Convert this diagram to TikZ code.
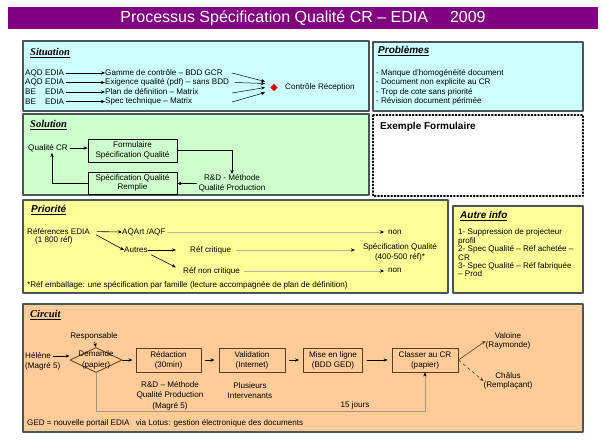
\documentclass[tikz,border=0pt]{standalone}
\usepackage{fontspec}
\setmainfont{Liberation Sans}
\newfontfamily\hdrserif{Liberation Serif}
\usetikzlibrary{
	arrows.meta,
	shapes.geometric,
	calc
}
\definecolor{TPurple}{HTML}{800080}
\definecolor{SitCyan}{HTML}{CCFFFF}
\definecolor{SolGreen}{HTML}{CCFFCC}
\definecolor{PriYellow}{HTML}{FFFF99}
\definecolor{CirPeach}{HTML}{FFCC99}
\definecolor{FrameGrey}{HTML}{4A5656}
\definecolor{CirBrown}{HTML}{5C3A1E}
\definecolor{ThinGrey}{HTML}{B4B4A4}
\definecolor{DiaRed}{HTML}{D00000}
\newcommand{\secbox}[5]{%
	\fill[#5] (#1,#2) rectangle (#3,#4);
	\draw[FrameGrey, line width=1.1pt] (#1,#2) rectangle (#3,#4);
}
\tikzset{
	txt/.style={font=\fontsize{8.1}{9.5}\selectfont, inner sep=0pt},
	hdr/.style={font=\fontsize{10}{12}\selectfont\bfseries\itshape, inner sep=0pt, anchor=west},
	hdrs/.style={hdr, font=\fontsize{10.5}{12}\selectfont\hdrserif\bfseries\itshape},
	solbox/.style={draw=black, fill=SolGreen, line width=0.8pt, minimum height=23pt,
		align=center, inner sep=0pt, font=\fontsize{8.1}{9.5}\selectfont},
	cirbox/.style={draw=CirBrown, fill=CirPeach, line width=0.9pt, minimum height=24pt,
		align=center, inner sep=0pt, font=\fontsize{8.1}{10}\selectfont},
	arr/.style={-{Stealth[length=4pt, width=3.4pt]}, line width=0.6pt},
	faint/.style={draw=ThinGrey, line width=0.5pt, -{Stealth[length=4pt, width=3.4pt, color=black]}},
	fbline/.style={draw=CirBrown!55, line width=0.5pt, -{Stealth[length=4pt, width=3.4pt, color=black]}}
}

\begin{document}
\begin{tikzpicture}[x=1pt, y=-1pt, >=Stealth, line cap=round, line join=round]
	\useasboundingbox (0,0) rectangle (605,445);
	
	% -- Title bar ------------------------------------------------
	\fill[TPurple] (8,7) rectangle (598,29);
	\node[font=\fontsize{16}{18}\selectfont, text=white, inner sep=0pt] (title) at (303,18)
	{Processus Spécification Qualité CR – EDIA\hspace{22pt}2009};
	
	% -- Situation (cyan) -----------------------------------------
	\secbox{23}{41}{369}{111}{SitCyan}
	\node[hdrs] (sitH) at (30,53) {\underline{Situation}};
	\foreach \src/\doc/\yy [count=\i] in {AQD/Gamme de contrôle – BDD GCR/73,
		AQD/Exigence qualité (pdf) – sans BDD/82.5,
		BE/Plan de définition – Matrix/92,
		BE/Spec technique – Matrix/101.5}{%
		\node[txt, anchor=west] (src\i) at (25,\yy) {\makebox[20pt][l]{\src}EDIA};
		\node[txt, anchor=west] (doc\i) at (105,\yy) {\doc};
		\draw[arr, shorten <=2pt] (src\i.east) -- (doc\i.west);
	}
	\node[diamond, fill=DiaRed, minimum size=7.5pt, inner sep=0pt] (ctl) at (274,87.5) {};
	\node[txt, anchor=west] (ctlT) at (285,87.5) {Contrôle Réception};
	\coordinate (go1) at (232,73);   \coordinate (hit1) at (265,81.5);
	\coordinate (go2) at (235,82.5); \coordinate (hit2) at (265,83.5);
	\coordinate (go3) at (232,93);   \coordinate (hit3) at (265,87.5);
	\coordinate (go4) at (232,102);  \coordinate (hit4) at (265,92.5);
	\foreach \i in {1,...,4}{%
		\draw[arr, line width=0.5pt] (go\i) -- (hit\i);
	}
	
	% -- Problemes (cyan) -----------------------------------------
	\secbox{373}{42}{583}{111}{SitCyan}
	\node[hdr] (probH) at (378,51) {\underline{Problèmes}};
	\node[txt, anchor=west, align=left] (probL) at (376,87.5)
	{- Manque d'homogénéité document\\- Document non explicite au CR\\
		- Trop de cote sans priorité\\- Révision document périmée};
	
	% -- Solution (green) -----------------------------------------
	\secbox{23}{114}{369}{195}{SolGreen}
	\node[hdrs] (solH) at (30,125) {\underline{Solution}};
	\node[txt, anchor=west] (qcr) at (28,148) {Qualité CR};
	\node[solbox, minimum width=89pt] (form) at (132.5,150.5) {Formulaire\\Spécification Qualité};
	\node[txt, align=center] (rdm) at (232,183.5) {R\&D - Méthode\\Qualité Production};
	\node[solbox, minimum width=89pt, minimum height=22pt] (rempl) at (132.5,183)
	{Spécification Qualité\\Remplie};
	\draw[arr, shorten <=2pt] (qcr.east) -- (qcr.east -| form.west);
	\draw[arr, shorten >=1pt] (form.east) -| (rdm.north);
	\draw[arr, shorten <=2pt] (rdm.west) -- (rdm.west -| rempl.east);
	\draw[arr, shorten >=1pt] (rempl.west) -| ([xshift=4pt]qcr.south);
	
	% -- Exemple formulaire (dotted) ------------------------------
	\draw[dotted, line width=1.3pt] (373,115) rectangle (583,196);
	\node[font=\fontsize{10}{12}\selectfont\bfseries, anchor=west, inner sep=0pt] (exH) at (380,127)
	{Exemple Formulaire};
	
	% -- Priorite (yellow) ----------------------------------------
	\secbox{23}{200}{448}{293}{PriYellow}
	\node[hdr] (priH) at (31,210) {\underline{Priorité}};
	\node[txt, anchor=west] (refs) at (27,231.5) {Références EDIA};
	\node[txt, anchor=west] (refsN) at (35,240.5) {(1 800 réf)};
	\node[txt, anchor=west] (aqart) at (122,232) {AQArt /AQF};
	\node[txt, anchor=west] (autres) at (124,250) {Autres};
	\node[txt, anchor=west] (rcrit) at (190,250) {Réf critique};
	\node[txt, anchor=west] (rnc) at (183,271) {Réf non critique};
	\node[txt, anchor=west] (non1) at (388,232) {non};
	\node[txt, anchor=west] (non2) at (388,270.5) {non};
	\node[txt, align=center] (specq) at (400,252.5) {Spécification Qualité\\(400-500 réf)*};
	\node[txt, anchor=west] (embal) at (27,285)
	{*Réf emballage: une spécification par famille (lecture accompagnée de plan de définition)};
	\draw[arr, shorten <=7pt] (refs.east) -- (aqart.west);
	\draw[arr, shorten <=7pt] (refs.east) -- (autres.west);
	\draw[arr, shorten >=14pt] (autres.east) -- (rcrit.west);
	\draw[arr, shorten <=4pt, shorten >=8pt] (autres.south east) -- (rnc.west);
	\draw[faint, shorten <=2pt, shorten >=4pt] (aqart.east) -- (aqart.east -| non1.west);
	\draw[faint, shorten <=5pt, shorten >=8pt] (rcrit.east) -- (rcrit.east -| specq.west);
	\draw[faint, shorten <=4pt, shorten >=4pt] (rnc.east) -- (rnc.east -| non2.west);
	
	% -- Autre info (yellow) --------------------------------------
	\secbox{453}{206}{583}{293}{PriYellow}
	\node[hdr] (autH) at (460,216) {\underline{Autre info}};
	\node[txt, font=\fontsize{8.1}{8.4}\selectfont, anchor=west, align=left] (autL) at (458,253)
	{1- Suppression de projecteur\\profil\\2- Spec Qualité – Réf achetée –\\CR\\
		3- Spec Qualité – Réf fabriquée\\– Prod};
	
	% -- Circuit (peach) ------------------------------------------
	\secbox{23}{304}{583}{432}{CirPeach}
	\node[hdrs] (cirH) at (30,315) {\underline{Circuit}};
	\node[txt] (resp) at (94,336) {Responsable};
	\node[txt, anchor=west] (hel) at (25,356) {Hélène};
	\node[txt, anchor=west] (helM) at (25,366) {(Magré 5)};
	\node[diamond, draw=CirBrown, line width=0.8pt, minimum width=52pt, minimum height=25pt,
	inner sep=0pt] (dem) at (96,360) {};
	\node[txt, align=center, font=\fontsize{8.1}{10.5}\selectfont] (demT) at (dem.center)
	{Demande\\(papier)};
	\node[cirbox, minimum width=65pt] (redac) at (168.5,360) {Rédaction\\(30min)};
	\node[cirbox, minimum width=66pt] (valid) at (252,360) {Validation\\(Internet)};
	\node[cirbox, minimum width=59pt] (mise) at (333,360) {Mise en ligne\\(BDD GED)};
	\node[cirbox, minimum width=66pt] (classer) at (425,360) {Classer au CR\\(papier)};
	\node[txt, align=center] (val) at (508,341) {Valoine\\(Raymonde)};
	\node[txt, align=center] (chal) at (508,381) {Châlus\\(Remplaçant)};
	\node[txt, align=center, font=\fontsize{8.1}{10.5}\selectfont] (rdq) at (170,395.5)
	{R\&D – Méthode\\Qualité Production\\(Magré 5)};
	\node[txt, align=center, font=\fontsize{8.1}{10.5}\selectfont] (plus) at (250,390.5)
	{Plusieurs\\Intervenants};
	\node[txt, anchor=south] (days) at (355,409) {15 jours};
	\node[txt, anchor=west] (ged) at (27,423)
	{GED = nouvelle portail EDIA\hspace{4pt} via Lotus: gestion électronique des documents};
	
	\draw[arr, shorten <=2pt] (hel.east) -- (hel.east -| dem.west);
	\draw[arr, shorten <=2pt] (resp.south) -- (dem.north);
	\draw[arr, shorten >=3pt] (dem.east) -- (redac.west);
	\foreach \a/\b in {redac/valid, valid/mise, mise/classer}{%
		\draw[arr, shorten <=4pt, shorten >=4pt] (\a.east) -- (\b.west);
	}
	\draw[arr, CirBrown] (classer.east) -- (val.west);
	\draw[arr, CirBrown, dashed] (classer.east) -- (chal.west);
	\coordinate (fbLow) at (0,411);
	\draw[fbline] (dem.south) |- (fbLow -| classer.south) -- (classer.south);
	
\end{tikzpicture}
\end{document}
